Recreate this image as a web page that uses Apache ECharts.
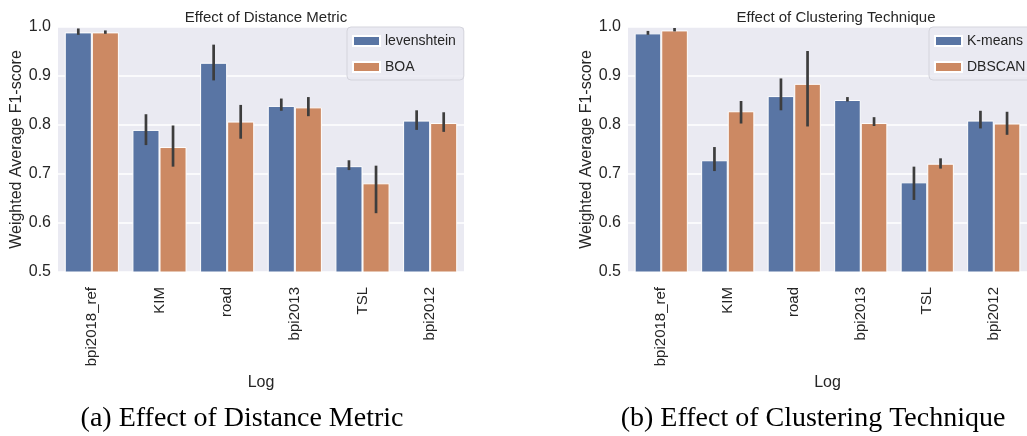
<!DOCTYPE html>
<html>
<head>
<meta charset="utf-8">
<script src="https://cdn.jsdelivr.net/npm/echarts@6/dist/echarts.min.js"></script>
<style>
  html, body { margin: 0; padding: 0; background: #fff; }
  #chart { width: 1027px; height: 436px; }
</style>
</head>
<body>
<div id="chart"></div>
<script>
"use strict";

// 日志类别
const logs = ['bpi2018_ref', 'KIM', 'road', 'bpi2013', 'TSL', 'bpi2012'];
const yTicks = [0.5, 0.6, 0.7, 0.8, 0.9, 1.0];

// (a) 距离度量
const levenshtein = [0.989, 0.790, 0.927, 0.839, 0.716, 0.809];
const levenshteinLow = [0.984, 0.759, 0.891, 0.829, 0.708, 0.790];
const levenshteinHigh = [0.997, 0.822, 0.964, 0.854, 0.728, 0.830];
const boa = [0.989, 0.755, 0.807, 0.836, 0.681, 0.804];
const boaLow = [0.986, 0.715, 0.772, 0.818, 0.620, 0.786];
const boaHigh = [0.993, 0.799, 0.841, 0.857, 0.717, 0.826];

// (b) 聚类方法
const kmeans = [0.987, 0.728, 0.859, 0.851, 0.683, 0.809];
const kmeansLow = [0.984, 0.706, 0.830, 0.848, 0.647, 0.793];
const kmeansHigh = [0.992, 0.755, 0.895, 0.857, 0.715, 0.829];
const dbscan = [0.993, 0.828, 0.884, 0.804, 0.721, 0.803];
const dbscanLow = [0.991, 0.803, 0.797, 0.798, 0.711, 0.780];
const dbscanHigh = [0.998, 0.849, 0.951, 0.816, 0.732, 0.827];

const BLUE = '#5975A4';
const ORANGE = '#CC8963';
const TEXT = '#262626';
const SANS = 'Liberation Sans';

let myChart = echarts.init(document.getElementById('chart'));

function errData(low, high) {
  return logs.map((_, i) => [i, low[i], high[i]]);
}

// 误差线：side = -1 左柱, +1 右柱
function errSeries(idx, side, low, high) {
  return {
    type: 'custom',
    xAxisIndex: idx,
    yAxisIndex: idx,
    z: 5,
    encode: { x: 0, y: [1, 2] },
    data: errData(low, high),
    renderItem: function (params, api) {
      const band = api.size([1, 0])[0];
      const p1 = api.coord([api.value(0), api.value(1)]);
      const p2 = api.coord([api.value(0), api.value(2)]);
      const x = p1[0] + side * band * 0.2;
      return {
        type: 'line',
        shape: { x1: x, y1: p1[1], x2: x, y2: p2[1] },
        style: { stroke: '#3d3d3d', lineWidth: 2.7 },
      };
    },
  };
}

function barSeries(idx, name, color, values) {
  return {
    name: name,
    type: 'bar',
    xAxisIndex: idx,
    yAxisIndex: idx,
    data: values,
    barGap: '0%',
    barCategoryGap: '20%',
    itemStyle: { color: color, borderColor: '#fff', borderWidth: 1 },
  };
}

function xAxisOf(idx) {
  return {
    type: 'category',
    gridIndex: idx,
    data: logs,
    name: 'Log',
    nameLocation: 'middle',
    nameGap: 99,
    nameTextStyle: { fontFamily: SANS, fontSize: 16, color: TEXT },
    axisLine: { show: false },
    axisTick: { show: false },
    splitLine: { show: false },
    axisLabel: {
      rotate: 90,
      margin: 15,
      fontFamily: SANS,
      fontSize: 15,
      color: TEXT,
    },
  };
}

function yAxisOf(idx) {
  return {
    type: 'value',
    gridIndex: idx,
    min: yTicks[0],
    max: yTicks[yTicks.length - 1],
    interval: 0.1,
    name: 'Weighted Average F1-score',
    nameLocation: 'middle',
    nameGap: 33,
    nameTextStyle: { fontFamily: SANS, fontSize: 16, color: TEXT },
    axisLine: { show: false },
    axisTick: { show: false },
    axisLabel: {
      margin: 7,
      fontFamily: SANS,
      fontSize: 16,
      color: TEXT,
      formatter: v => v.toFixed(1),
    },
    splitLine: { show: true, lineStyle: { color: '#fff', width: 1.5 } },
  };
}

function legendOf(left, names) {
  return {
    orient: 'vertical',
    left: left,
    top: 27,
    data: names,
    itemWidth: 27,
    itemHeight: 10,
    itemGap: 12,
    padding: [7, 8, 6, 5],
    backgroundColor: 'rgba(234,234,242,0.85)',
    borderColor: '#d4d4dc',
    borderWidth: 1,
    borderRadius: 4,
    icon: 'rect',
    textStyle: { fontFamily: SANS, fontSize: 14, color: TEXT },
  };
}

let option = {
  animation: false,
  backgroundColor: '#fff',
  title: [
    {
      text: 'Effect of Distance Metric',
      left: 261, top: 5, textAlign: 'center',
      textStyle: { fontFamily: SANS, fontSize: 15, fontWeight: 'normal', color: TEXT },
    },
    {
      text: 'Effect of Clustering Technique',
      left: 831, top: 5, textAlign: 'center',
      textStyle: { fontFamily: SANS, fontSize: 15, fontWeight: 'normal', color: TEXT },
    },
    {
      text: '(a) Effect of Distance Metric',
      left: 237, top: 400, textAlign: 'center',
      textStyle: { fontFamily: 'Liberation Serif', fontSize: 28, fontWeight: 'normal', color: '#000' },
    },
    {
      text: '(b) Effect of Clustering Technique',
      left: 808, top: 400, textAlign: 'center',
      textStyle: { fontFamily: 'Liberation Serif', fontSize: 28, fontWeight: 'normal', color: '#000' },
    },
  ],
  legend: [
    legendOf(347, ['levenshtein', 'BOA']),
    legendOf(929, ['K-means', 'DBSCAN']),
  ],
  grid: [
    { left: 58, top: 27, width: 406, height: 245, show: true, backgroundColor: '#EAEAF2', borderWidth: 0 },
    { left: 628, top: 27, width: 406, height: 245, show: true, backgroundColor: '#EAEAF2', borderWidth: 0 },
  ],
  xAxis: [xAxisOf(0), xAxisOf(1)],
  yAxis: [yAxisOf(0), yAxisOf(1)],
  series: [
    barSeries(0, 'levenshtein', BLUE, levenshtein),
    barSeries(0, 'BOA', ORANGE, boa),
    errSeries(0, -1, levenshteinLow, levenshteinHigh),
    errSeries(0, 1, boaLow, boaHigh),
    barSeries(1, 'K-means', BLUE, kmeans),
    barSeries(1, 'DBSCAN', ORANGE, dbscan),
    errSeries(1, -1, kmeansLow, kmeansHigh),
    errSeries(1, 1, dbscanLow, dbscanHigh),
  ],
};

myChart.setOption(option);
</script>
</body>
</html>
